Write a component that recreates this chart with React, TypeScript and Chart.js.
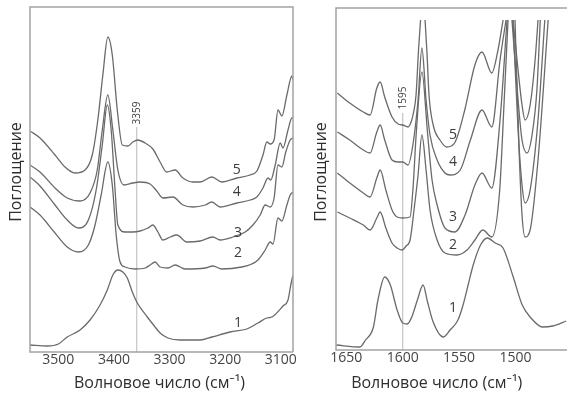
import React, { useEffect, useRef } from "react";
import { Chart, registerables } from "chart.js";

Chart.register(...registerables);

type Pair = [number, number | null];

// ---------------- Left panel: 3551–3078 cm-1 ----------------
const leftRange = [3078, 3551];
const leftTicks = [3500, 3400, 3300, 3200, 3100];

const leftSpectrum1: Pair[] = [
  [3551, 7], [3520, 6], [3500, 8], [3484, 15], [3461, 22], [3443, 32], [3425, 47], [3412, 62],
  [3402, 77], [3393, 82], [3384, 80], [3376, 74], [3367, 60], [3358, 49], [3340, 35], [3326, 25],
  [3317, 19], [3303, 14], [3281, 12], [3245, 12], [3224, 15], [3191, 20], [3161, 23], [3141, 29],
  [3125, 34], [3116, 35], [3096, 46], [3087, 52], [3082, 67], [3078, 77],
];
const leftSpectrum2: Pair[] = [
  [3551, 145], [3533, 137], [3506, 119], [3484, 105], [3464, 100], [3446, 107], [3434, 127],
  [3423, 157], [3411, 190], [3403, 167], [3396, 117], [3389, 90], [3380, 85], [3362, 83],
  [3344, 84], [3335, 87], [3326, 90], [3317, 85], [3303, 84], [3290, 87], [3281, 85], [3272, 83],
  [3236, 84], [3222, 86], [3206, 83], [3170, 85], [3152, 88], [3141, 92], [3128, 102], [3119, 110],
  [3114, 108], [3105, 134], [3098, 131], [3089, 147], [3083, 157], [3078, 160],
];
const leftSpectrum3: Pair[] = [
  [3551, 175], [3533, 166], [3506, 147], [3484, 132], [3464, 124], [3446, 132], [3432, 162],
  [3421, 207], [3412, 247], [3405, 222], [3398, 162], [3393, 127], [3380, 120], [3366, 120],
  [3353, 121], [3339, 124], [3330, 127], [3321, 120], [3312, 112], [3299, 115], [3287, 117],
  [3269, 110], [3245, 111], [3222, 115], [3209, 112], [3186, 115], [3164, 120], [3150, 127],
  [3137, 137], [3128, 147], [3119, 145], [3112, 154], [3105, 187], [3098, 185], [3091, 200],
  [3083, 212], [3078, 214],
];
const leftSpectrum4: Pair[] = [
  [3551, 187], [3533, 180], [3506, 164], [3484, 154], [3461, 151], [3443, 159], [3430, 182],
  [3421, 222], [3411, 257], [3402, 222], [3393, 182], [3382, 167], [3366, 169], [3353, 170],
  [3335, 168], [3323, 161], [3312, 154], [3294, 155], [3276, 147], [3258, 145], [3236, 147],
  [3224, 150], [3209, 145], [3179, 149], [3155, 152], [3143, 155], [3132, 164], [3123, 174],
  [3118, 172], [3110, 187], [3101, 209], [3096, 204], [3087, 222], [3080, 234], [3078, 234],
];
const leftSpectrum5: Pair[] = [
  [3551, 221], [3533, 214], [3506, 197], [3488, 185], [3470, 179], [3452, 182], [3439, 197],
  [3429, 232], [3420, 277], [3411, 315], [3403, 297], [3394, 242], [3385, 207], [3375, 206],
  [3366, 210], [3357, 212], [3344, 209], [3330, 203], [3317, 190], [3305, 180], [3290, 182],
  [3276, 174], [3258, 170], [3245, 170], [3224, 175], [3206, 170], [3179, 174], [3155, 177],
  [3143, 181], [3132, 197], [3125, 210], [3119, 208], [3112, 212], [3105, 242], [3098, 236],
  [3089, 257], [3080, 276], [3078, 272],
];
const leftMarkerValue = 3359;
const leftMarkerTop = 225;
const leftMarkerLabelY = 239;
const leftCurveLabelX = [3177, 3177, 3177, 3179, 3179];
const leftCurveLabelY = [29, 99, 119, 160, 182];

// ---------------- Right panel: 1654–1450 cm-1 ----------------
const rightRange = [1449.3, 1654.2];
const rightTicks = [1650, 1600, 1550, 1500];

const rightSpectrum1: Pair[] = [
  [1654, 5], [1633, 3], [1628, 10], [1621, 23], [1617, 50], [1611, 73], [1606, 65], [1600, 40],
  [1595, 27], [1591, 26], [1587, 33], [1582, 50], [1577, 65], [1573, 48], [1568, 28], [1559, 13],
  [1553, 20], [1546, 30], [1541.5, 45], [1537, 65], [1532.5, 85], [1526, 105], [1520, 112],
  [1513, 107], [1506, 102], [1497, 73], [1489, 45], [1482, 33], [1471, 23], [1462, 24], [1450, 29],
];
const rightSpectrum2: Pair[] = [
  [1653, 138], [1642, 132], [1630, 125], [1624, 120], [1618, 132], [1615, 138], [1610, 122],
  [1604.5, 107], [1600, 102], [1595.6, 100], [1592, 104], [1588.5, 110], [1585, 140],
  [1581.4, 175], [1578, 215], [1574.3, 180], [1570.8, 140], [1564.5, 110], [1557.5, 97],
  [1547, 95], [1538, 100], [1531, 110], [1524, 120], [1516, 113], [1509, 160], [1505, 250],
  [1501.6, 330], [1498.5, null], [1495.4, 330], [1491.8, 200], [1489.2, 135], [1486.5, 113],
  [1482, 120], [1475, 190], [1466, 330],
];
const rightSpectrum3: Pair[] = [
  [1653, 177], [1642, 167], [1630, 157], [1624, 153], [1618, 172], [1615, 180], [1610, 160],
  [1604.5, 140], [1600, 133], [1595, 132], [1588.5, 133], [1586, 160], [1583, 217], [1578, 278],
  [1573, 217], [1569, 170], [1564.5, 145], [1557.5, 122], [1548.6, 118], [1539.7, 135],
  [1531, 165], [1524.7, 177], [1516, 162], [1508.7, 230], [1502.5, 330], [1500, null],
  [1497.2, 330], [1492.7, 220], [1489.2, 165], [1486.5, 147], [1482, 160], [1475, 230], [1469, 330],
];
const rightSpectrum4: Pair[] = [
  [1653, 218], [1642, 210], [1630, 200], [1624, 197], [1618, 218], [1615, 225], [1611, 210],
  [1604.5, 190], [1599, 188], [1595, 188], [1590.3, 185], [1586, 205], [1581.4, 250], [1578, 302],
  [1574.3, 250], [1570.8, 215], [1564.5, 190], [1557.5, 177], [1553, 175], [1544, 180],
  [1535, 210], [1524.7, 240], [1516, 223], [1508.7, 290], [1503.4, 330], [1500.8, null],
  [1498.1, 330], [1492.7, 250], [1489.2, 210], [1484.7, 197], [1480.3, 215], [1476, 260], [1473, 330],
];
const rightSpectrum5: Pair[] = [
  [1653, 257], [1642, 247], [1630, 238], [1624, 235], [1618, 262], [1615, 268], [1611, 253],
  [1604.5, 233], [1599, 226], [1595, 225], [1590.3, 223], [1587.6, 228], [1585.9, 235],
  [1583.2, 255], [1581, 300], [1579.2, 330], [1577.2, null], [1575.2, 330], [1573.4, 295],
  [1571.7, 255], [1568, 225], [1562, 210], [1556, 203], [1549, 207], [1540, 240], [1531, 285],
  [1524.7, 298], [1516, 277], [1510.5, 300], [1506, 330], [1501.6, null], [1497.2, 330],
  [1492.7, 280], [1489.2, 245], [1486.5, 230], [1482, 245], [1477.6, 290], [1475, 330],
];
const rightMarkerValue = 1595;
const rightMarkerTop = 237;
const rightMarkerLabelY = 252;
const rightCurveLabelX = [1550.4, 1550.4, 1550.4, 1550.4, 1550.4];
const rightCurveLabelY = [42, 105, 133, 188, 215];

const curveNames = ["1", "2", "3", "4", "5"];
const yTitle = "Поглощение";
const xTitle = "Волновое число (см⁻¹)";

const FONT = "'Open Sans', 'Noto Sans', sans-serif";
const CURVE_COLOR = "#6a6a6a";

interface PanelConfig {
  left: number;
  width: number;
  padding: { left: number; right: number; top: number; bottom: number };
  axisHeight: number;
  range: number[];
  yMax: number;
  ticks: number[];
  labelOffset: number;
  series: Pair[][];
  marker: number;
  markerTop: number;
  markerLabelY: number;
  labelX: number[];
  labelY: number[];
  yTitleX: number;
  yTitleY: number;
  xTitleX: number;
  xTitleY: number;
  frameRight: boolean;
}

const leftPanel: PanelConfig = {
  left: 0,
  width: 300,
  padding: { left: 30, right: 7, top: 7, bottom: 0 },
  axisHeight: 43,
  range: leftRange,
  yMax: 345,
  ticks: leftTicks,
  labelOffset: 0,
  series: [leftSpectrum1, leftSpectrum2, leftSpectrum3, leftSpectrum4, leftSpectrum5],
  marker: leftMarkerValue,
  markerTop: leftMarkerTop,
  markerLabelY: leftMarkerLabelY,
  labelX: leftCurveLabelX,
  labelY: leftCurveLabelY,
  yTitleX: 16,
  yTitleY: 172,
  xTitleX: 159.5,
  xTitleY: 383,
  frameRight: true,
};

const rightPanel: PanelConfig = {
  left: 300,
  width: 267,
  padding: { left: 36, right: 0, top: 8, bottom: 0 },
  axisHeight: 45,
  range: rightRange,
  yMax: 342,
  ticks: rightTicks,
  labelOffset: 5.6,
  series: [rightSpectrum1, rightSpectrum2, rightSpectrum3, rightSpectrum4, rightSpectrum5],
  marker: rightMarkerValue,
  markerTop: rightMarkerTop,
  markerLabelY: rightMarkerLabelY,
  labelX: rightCurveLabelX,
  labelY: rightCurveLabelY,
  yTitleX: 21,
  yTitleY: 172,
  xTitleX: 136.7,
  xTitleY: 383,
  frameRight: false,
};

function decorPlugin(cfg: PanelConfig) {
  return {
    id: "spectrumDecor",
    afterDatasetsDraw(chart: any) {
      const { ctx, chartArea: a, scales } = chart;
      const xs = scales.x;
      const ys = scales.y;
      ctx.save();
      // frame
      ctx.strokeStyle = "#a2a2a2";
      ctx.lineWidth = 1.5;
      ctx.beginPath();
      if (cfg.frameRight) {
        ctx.moveTo(a.right, a.bottom);
        ctx.lineTo(a.right, a.top);
      } else {
        ctx.moveTo(a.right + 2, a.top);
      }
      ctx.lineTo(a.left, a.top);
      ctx.lineTo(a.left, a.bottom);
      ctx.lineTo(cfg.frameRight ? a.right : a.right + 2, a.bottom);
      ctx.stroke();

      // curve numbers
      ctx.fillStyle = "#3c3c3c";
      ctx.font = `14px ${FONT}`;
      ctx.textAlign = "center";
      ctx.textBaseline = "middle";
      cfg.labelX.forEach((lx, i) => {
        ctx.fillText(curveNames[i], xs.getPixelForValue(lx), ys.getPixelForValue(cfg.labelY[i]));
      });

      // marker label (rotated)
      ctx.save();
      ctx.translate(xs.getPixelForValue(cfg.marker), ys.getPixelForValue(cfg.markerLabelY));
      ctx.rotate(-Math.PI / 2);
      ctx.font = `10px ${FONT}`;
      ctx.fillStyle = "#444";
      ctx.fillText(String(cfg.marker), 0, 0);
      ctx.restore();

      // axis titles
      ctx.fillStyle = "#2e2e2e";
      ctx.font = `16px ${FONT}`;
      ctx.save();
      ctx.translate(cfg.yTitleX, cfg.yTitleY);
      ctx.rotate(-Math.PI / 2);
      ctx.fillText(yTitle, 0, 0);
      ctx.restore();
      ctx.fillText(xTitle, cfg.xTitleX, cfg.xTitleY);
      ctx.restore();
    },
  };
}

function SpectrumPanel({ cfg }: { cfg: PanelConfig }) {
  const ref = useRef<HTMLCanvasElement>(null);
  useEffect(() => {
    if (!ref.current) return;
    const datasets: any[] = cfg.series.map((s) => ({
      data: s.map(([x, y]) => ({ x, y })),
      borderColor: CURVE_COLOR,
      borderWidth: 1.3,
      pointRadius: 0,
      fill: false,
      spanGaps: false,
      cubicInterpolationMode: "monotone",
      order: 1,
    }));
    datasets.push({
      data: [
        { x: cfg.marker, y: 0 },
        { x: cfg.marker, y: cfg.markerTop },
      ],
      borderColor: "#b8b8b8",
      borderWidth: 1,
      pointRadius: 0,
      fill: false,
      order: 5,
    });
    const chart = new Chart(ref.current, {
      type: "line",
      data: { datasets },
      options: {
        animation: false,
        responsive: false,
        devicePixelRatio: 1,
        layout: { padding: cfg.padding },
        plugins: { legend: { display: false }, tooltip: { enabled: false } },
        scales: {
          x: {
            type: "linear",
            reverse: true,
            min: cfg.range[0],
            max: cfg.range[1],
            grid: { display: false, drawTicks: false },
            border: { display: false },
            afterBuildTicks: (scale: any) => {
              scale.ticks = cfg.ticks.map((v) => ({ value: v }));
            },
            afterFit: (scale: any) => {
              scale.height = cfg.axisHeight;
            },
            ticks: {
              padding: 0,
              labelOffset: cfg.labelOffset,
              maxRotation: 0,
              autoSkip: false,
              color: "#444",
              font: { family: FONT, size: 14 },
              callback: (v: any) => String(v),
            },
          },
          y: {
            type: "linear",
            display: false,
            min: 0,
            max: cfg.yMax,
          },
        },
      },
      plugins: [decorPlugin(cfg)],
    } as any);
    return () => chart.destroy();
  }, [cfg]);
  return (
    <canvas
      ref={ref}
      width={cfg.width}
      height={395}
      style={{ position: "absolute", left: cfg.left, top: 0, display: "block" }}
    />
  );
}

export default function App() {
  return (
    <div style={{ position: "absolute", left: 0, top: 0, width: 567, height: 395, background: "#fff", overflow: "hidden" }}>
      <SpectrumPanel cfg={leftPanel} />
      <SpectrumPanel cfg={rightPanel} />
    </div>
  );
}
